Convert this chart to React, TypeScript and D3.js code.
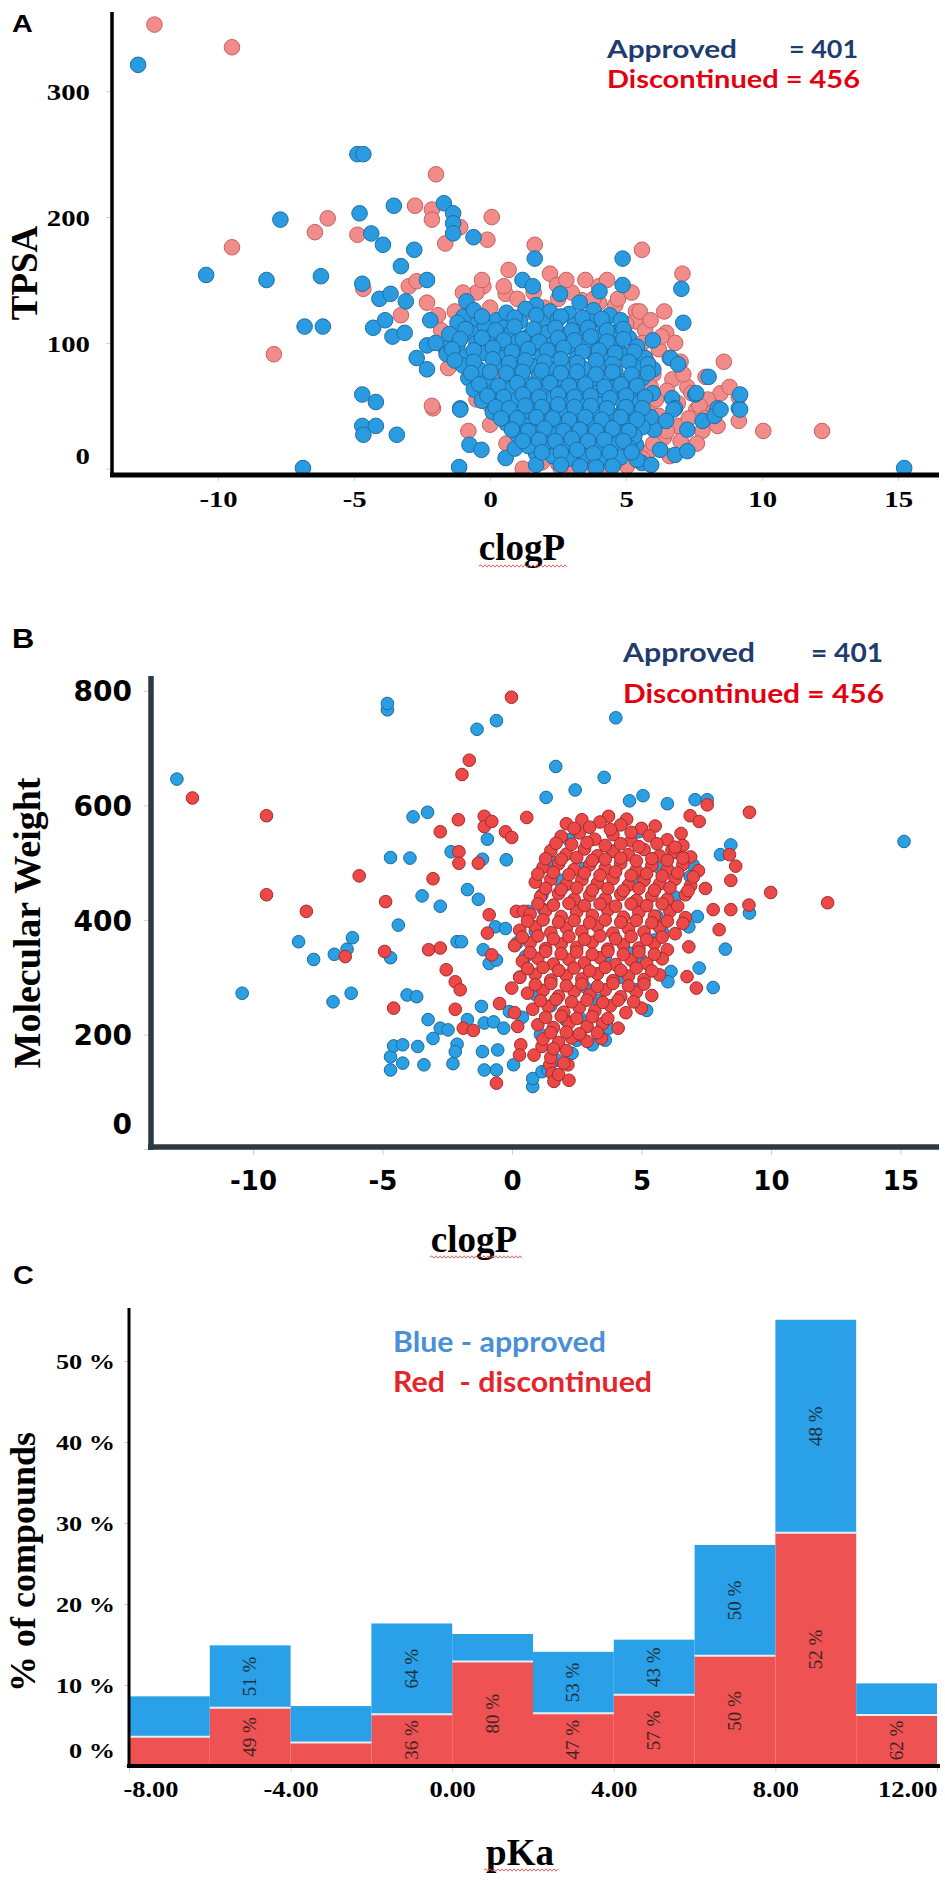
import { useEffect, useRef } from "react";
import * as d3 from "d3";

type Pt = [number, number];

// panel A: clogP vs TPSA
const approvedTpsa: Pt[] = [
  [-12.94, 321], [-10.44, 154], [-8.22, 150], [-7.71, 198], [-6.22, 153], [-6.82, 113], [-6.15, 113],
  [-4.88, 250], [-4.66, 250], [-4.8, 203], [-4.37, 187], [-3.94, 178], [-3.54, 209], [-2.79, 174],
  [-3.28, 161], [-2.32, 150], [-4.7, 147], [-4.07, 135], [-3.66, 139], [-3.1, 133], [-1.7, 211],
  [-1.36, 203], [-1.36, 195], [-1.36, 187], [-0.61, 184], [-4.3, 112], [-3.86, 118], [-3.59, 105],
  [-3.14, 108], [-2.7, 88], [-2.32, 98], [-2.32, 79], [-2.2, 118], [-1.65, 96], [-0.87, 133],
  [-0.98, 121], [-0.43, 117], [0.24, 118], [0.8, 120], [1.19, 150], [1.57, 145], [1.64, 167],
  [1.69, 130], [2.57, 139], [3.29, 132], [4.02, 141], [4.87, 167], [4.87, 146], [7.03, 143],
  [7.1, 116], [5.98, 102], [6.63, 88], [6.91, 83], [8.03, 73], [7.54, 59], [8.36, 48], [9.14, 48],
  [6.69, 56], [6.8, 48], [5.98, 60], [-4.7, 59], [-4.2, 53], [-1.1, 48],
  [-6.88, 0.5], [-1.14, 1.3], [-4.7, 34], [-4.2, 34], [-4.66, 27], [-3.43, 27], [-1.1, 47],
  [-0.76, 19], [-0.32, 15], [0.57, 8.5], [0.91, 16], [1.69, 12], [1.69, 3], [15.22, 0.5],
  [4.47, 4.5], [5.58, 4.5], [5.92, 3], [6.25, 15], [6.8, 11], [7.25, 14], [7.25, 31], [7.81, 38],
  [8.25, 42], [8.47, 47], [9.19, 47], [9.19, 59], [7.58, 60], [6.74, 47], [6.47, 38], [6.03, 31],
  [5.36, 19], [4.8, 24], [4.25, 20], [3.47, 18], [3.02, 26], [3.8, 39], [5.14, 36], [4.92, 47],
  [4.25, 55], [3.13, 51], [2.13, 44], [1.13, 36], [0.46, 51], [-0.21, 61], [1.35, 65], [2.69, 57],
  [2.57, 31], [2.13, 19], [3.36, 7],
  [-0.6, 126], [0.6, 124], [1.3, 127], [2.2, 125], [2.9, 123], [3.8, 126], [4.4, 122],
  [-1.2, 116], [-0.2, 113], [0.5, 112], [1.1, 117], [1.9, 116], [2.5, 119], [3.1, 114], [3.7, 117], [4.2, 113], [4.8, 118],
  [-1.5, 107], [-0.7, 108], [0.1, 106], [0.8, 109], [1.4, 105], [2.1, 108], [2.7, 106], [3.3, 109], [3.9, 104], [4.5, 108], [5.1, 104],
  [-2.0, 100], [-1.2, 98], [-0.5, 100], [0.3, 97], [1.0, 101], [1.6, 96], [2.3, 99], [2.9, 97], [3.5, 101], [4.1, 96], [4.7, 99], [5.4, 97],
  [-1.6, 91], [-0.9, 89], [-0.2, 92], [0.5, 88], [1.2, 91], [1.9, 89], [2.5, 92], [3.2, 88], [3.8, 91], [4.4, 87], [5.0, 90], [5.7, 88],
  [-1.0, 82], [-0.4, 79], [0.2, 83], [0.9, 80], [1.5, 82], [2.2, 79], [2.8, 83], [3.4, 80], [4.0, 82], [4.6, 78], [5.3, 81], [6.0, 79],
  [-0.8, 72], [-0.1, 70], [0.6, 73], [1.2, 71], [1.8, 74], [2.4, 70], [3.1, 72], [3.7, 69], [4.3, 73], [5.0, 70], [5.6, 72],
  [-0.6, 63], [0.1, 61], [0.8, 64], [1.4, 62], [2.0, 65], [2.7, 61], [3.3, 63], [3.9, 60], [4.5, 64], [5.2, 62],
  [-0.3, 54], [0.4, 52], [1.0, 55], [1.6, 53], [2.3, 56], [2.9, 52], [3.5, 54], [4.1, 51], [4.8, 55], [5.5, 53],
  [0.1, 45], [0.8, 43], [1.4, 46], [2.0, 44], [2.6, 47], [3.3, 43], [3.9, 45], [4.5, 42], [5.2, 44], [5.9, 41],
  [0.6, 36], [1.3, 34], [1.9, 37], [2.5, 35], [3.1, 33], [3.7, 36], [4.3, 34], [5.0, 37], [5.6, 33],
  [1.0, 27], [1.6, 25], [2.2, 28], [2.9, 26], [3.5, 28], [4.1, 25], [4.7, 29], [5.3, 26],
  [1.4, 18], [2.0, 20], [2.7, 17], [3.2, 21], [3.9, 16], [4.5, 19], [5.1, 17],
  [2.3, 10], [2.9, 8], [3.5, 11], [4.0, 6], [4.8, 9], [5.4, 7],
  [-0.3, 121], [0.9, 120], [1.7, 122], [2.6, 121], [3.4, 120], [4.1, 119],
  [-0.9, 111], [0.2, 110], [0.9, 113], [1.6, 111], [2.4, 112], [3.0, 110], [3.6, 112], [4.3, 110], [4.9, 111],
  [-1.1, 103], [-0.3, 104], [0.5, 102], [1.2, 103], [1.8, 101], [2.5, 104], [3.1, 102], [3.7, 105], [4.3, 101], [4.9, 103],
  [-1.4, 95], [-0.6, 94], [0.1, 96], [0.8, 93], [1.4, 95], [2.1, 94], [2.7, 96], [3.4, 93], [4.0, 94], [4.6, 92], [5.3, 93],
  [-1.3, 86], [-0.6, 85], [0.1, 87], [0.7, 84], [1.3, 86], [2.0, 85], [2.6, 87], [3.2, 84], [3.9, 86], [4.5, 83], [5.1, 85], [5.8, 83],
  [-0.7, 76], [0.0, 77], [0.6, 76], [1.2, 77], [1.9, 78], [2.6, 76], [3.2, 77], [3.9, 75], [4.5, 77], [5.2, 75], [5.8, 76],
  [-0.4, 67], [0.3, 66], [1.0, 68], [1.6, 66], [2.2, 68], [2.9, 66], [3.5, 67], [4.2, 65], [4.8, 67], [5.4, 66],
  [-0.1, 58], [0.5, 57], [1.2, 59], [1.8, 57], [2.5, 59], [3.1, 57], [3.7, 58], [4.4, 56], [5.0, 58], [5.7, 57],
  [0.2, 49], [0.7, 48], [1.3, 50], [1.9, 49], [2.5, 51], [3.1, 49], [3.7, 50], [4.3, 48], [5.0, 49], [5.6, 48],
  [0.4, 40], [1.0, 40], [1.7, 41], [2.3, 40], [2.9, 39], [3.5, 41], [4.1, 39], [4.8, 41], [5.4, 39],
  [0.8, 31], [1.4, 30], [2.0, 32], [2.7, 30], [3.3, 31], [3.9, 30], [4.5, 32], [5.1, 30],
  [1.2, 22], [1.8, 23], [2.4, 22], [3.0, 24], [3.6, 22], [4.2, 23], [4.9, 22],
  [1.9, 13], [2.6, 13], [3.2, 15], [3.8, 12], [4.4, 13], [5.2, 13],
  [2.6, 3], [3.3, 2], [3.9, 1], [4.5, 2],
];

const discontinuedTpsa: Pt[] = [
  [-12.34, 353], [-9.49, 335], [-9.49, 176], [-7.95, 91], [-6.44, 188], [-5.97, 199], [-4.88, 186],
  [-2.76, 209], [-1.99, 234], [-2.14, 206], [-2.14, 198], [-1.65, 179], [-1.1, 192], [0.06, 200],
  [-0.1, 182], [1.64, 178], [5.58, 174], [7.07, 155], [0.68, 158], [-0.25, 145], [2.2, 155],
  [0.57, 139], [-2.99, 145], [-2.7, 149], [-4.66, 143], [-2.32, 132], [-3.28, 122], [-1.92, 122],
  [5.36, 125], [5.36, 117], [6.47, 108], [8.59, 85], [9.14, 57], [8.47, 60], [-1.54, 80], [-2.1, 48],
  [3.36, 134], [2.46, 146], [4.0, 132], [5.25, 92], [5.8, 84], [6.7, 71], [7.25, 65], [7.92, 73],
  [10.04, 30], [12.2, 30], [9.14, 38], [8.36, 34], [-2.14, 50], [5.14, 12], [7.14, 18], [6.36, 39],
  [2.02, 23], [0.91, 31], [0.02, 50], [5.03, 2], [3.36, 10], [6.91, 34], [7.58, 47],
  [5.7, 110], [6.2, 95], [6.0, 75], [6.5, 62], [6.9, 52], [7.3, 40], [6.4, 25], [5.9, 15], [7.8, 30],
  [8.0, 55], [6.8, 100], [5.5, 125], [4.6, 130], [3.0, 140], [1.0, 135], [2.0, 128], [0.0, 128],
  [-0.5, 140], [4.0, 145], [6.6, 10], [7.6, 20], [4.6, 5], [2.5, 4], [1.2, 0], [-0.8, 30], [5.9, 65],
  [6.2, 42], [7.0, 85], [4.7, 135], [-0.7, 110], [-1.3, 125], [-1.8, 110], [0.3, 75], [2.6, 0], [3.8, 2],
  [6.3, 105], [6.6, 88], [7.1, 75], [7.4, 60], [7.7, 50], [8.2, 45], [6.1, 55], [5.8, 45], [6.5, 30],
  [7.0, 22], [7.9, 40], [8.8, 65], [5.9, 118], [6.4, 125], [5.2, 140], [3.5, 150], [2.8, 150], [1.6, 140],
  [0.5, 145], [-0.3, 150], [-1.0, 140], [4.3, 150], [3.8, 135], [2.5, 135], [1.4, 125], [5.0, 115],
  [5.6, 100], [6.0, 20], [5.6, 8], [4.2, 0], [3.1, 0], [1.9, 5], [0.6, 20], [0.0, 35], [-0.5, 55], [-0.2, 95],
];

// panel B: clogP vs molecular weight
const approvedMw: Pt[] = [
  [-12.94, 646], [-10.42, 272], [-8.24, 362], [-7.66, 331], [-6.86, 340], [-6.37, 349], [-6.16, 369],
  [-6.91, 257], [-6.21, 272], [-4.69, 509], [-3.94, 508], [-3.82, 580], [-3.26, 588], [-4.39, 391],
  [-3.47, 442], [-2.77, 424], [-4.69, 334], [-4.05, 269], [-3.68, 266], [-3.24, 226], [-3.05, 193],
  [-2.77, 211], [-2.47, 208], [-2.12, 183], [-2.12, 362], [-1.95, 362], [-2.35, 519], [-1.72, 453],
  [-1.3, 436], [-1.14, 506], [-0.95, 541], [-0.22, 505], [-1.11, 348], [-0.88, 324], [-0.6, 330],
  [-0.64, 388], [-0.25, 385], [-1.72, 226], [-1.18, 249], [-1.07, 220], [-0.71, 222], [-0.32, 211],
  [-1.14, 170], [-0.55, 173], [0.06, 147], [-1.07, 138], [-0.6, 138], [-4.69, 161], [-4.57, 180],
  [-4.22, 182], [-4.22, 150], [-4.69, 138], [-3.64, 179], [-3.4, 147], [-2.28, 149], [-2.19, 170],
  [0.8, 109], [0.8, 123], [1.16, 135], [1.69, 668], [3.56, 649], [2.44, 627], [1.32, 614], [4.54, 608],
  [5.06, 617], [6.0, 603], [7.07, 610], [7.54, 610], [4.9, 554], [5.64, 493], [7.0, 496], [6.88, 476],
  [8.45, 531], [8.05, 514], [15.14, 537], [9.17, 412], [7.16, 406], [6.83, 388], [8.24, 349],
  [7.23, 316], [7.77, 282], [6.14, 310], [6.02, 292], [5.2, 242], [3.73, 211], [3.1, 182], [2.32, 167],
  [1.74, 155], [1.39, 138], [0.52, 336], [0.62, 415], [1.16, 444], [1.46, 505], [1.22, 418],
  [2.79, 490], [5.6, 406], [3.61, 336], [5.48, 365], [4.54, 342], [2.79, 284], [4.78, 278], [2.08, 225],
  [-4.81, 767], [-4.81, 778], [-0.6, 748], [-1.35, 733], [4.01, 753],
  [0.3, 300], [0.9, 270], [1.5, 250], [0.4, 230], [1.1, 200], [2.6, 230], [3.3, 260], [4.2, 300],
  [5.0, 330], [5.8, 380], [6.3, 440], [4.7, 470], [3.9, 520], [2.2, 540], [1.8, 470], [0.9, 380],
  [0.2, 360], [-0.1, 240], [2.5, 190], [3.6, 190],
];

const discontinuedMw: Pt[] = [
  [-12.34, 613], [-9.48, 582], [-9.48, 444], [-7.94, 415], [-5.9, 477], [-6.44, 336], [-4.88, 432],
  [-4.92, 345], [-4.57, 246], [-3.05, 472], [-3.22, 348], [-2.77, 554], [-2.77, 351], [-2.54, 313],
  [-2.19, 292], [-2.0, 278], [-2.19, 244], [-2.07, 575], [-2.05, 519], [-2.05, 499], [-1.88, 211],
  [-1.49, 207], [-1.3, 499], [-1.07, 581], [-1.07, 563], [-0.78, 572], [-0.88, 409], [-0.95, 377],
  [-0.78, 339], [-0.48, 254], [-0.25, 554], [-0.01, 544], [0.57, 579], [-0.6, 115], [0.1, 238],
  [0.22, 214], [0.17, 415], [0.45, 415], [-0.01, 281], [0.34, 182], [0.29, 164], [0.85, 164],
  [1.16, 179], [1.46, 147], [1.55, 132], [1.62, 118], [2.16, 147], [2.63, 199], [3.45, 193],
  [6.76, 301], [7.12, 281], [6.83, 353], [6.88, 582], [7.23, 572], [7.54, 601], [9.17, 588], [8.4, 514],
  [8.64, 494], [8.45, 469], [7.47, 455], [7.77, 418], [8.45, 418], [9.15, 426], [8.0, 383], [9.99, 448],
  [12.19, 430], [6.18, 522], [6.53, 551], [5.53, 564], [3.73, 581], [4.43, 576],
  [-0.02, 789], [-1.65, 679], [-1.93, 654],
  [2.1, 568], [2.7, 575], [3.4, 571], [4.2, 566], [5.0, 560],
  [1.9, 546], [2.6, 552], [3.2, 541], [3.9, 549], [4.6, 538], [5.3, 547], [6.0, 540], [6.6, 530],
  [1.5, 521], [2.1, 515], [2.8, 524], [3.3, 512], [3.9, 520], [4.5, 514], [5.1, 523], [5.7, 512], [6.3, 518], [6.9, 510],
  [1.2, 492], [1.8, 498], [2.4, 488], [3.0, 496], [3.6, 490], [4.2, 499], [4.8, 487], [5.4, 495], [6.0, 489], [6.6, 497], [7.2, 486],
  [0.9, 466], [1.5, 471], [2.1, 462], [2.7, 470], [3.3, 464], [3.9, 472], [4.5, 461], [5.1, 469], [5.7, 463], [6.3, 471], [6.9, 460],
  [1.1, 440], [1.8, 446], [2.4, 436], [3.0, 443], [3.6, 437], [4.2, 445], [4.8, 434], [5.4, 442], [6.0, 436], [6.7, 444],
  [0.7, 410], [1.3, 416], [1.9, 406], [2.5, 414], [3.1, 408], [3.7, 417], [4.3, 405], [4.9, 413], [5.5, 407], [6.1, 415], [6.7, 404],
  [0.3, 382], [0.9, 388], [1.5, 378], [2.1, 386], [2.7, 380], [3.3, 389], [3.9, 377], [4.5, 385], [5.1, 379], [5.7, 387], [6.3, 376],
  [0.1, 355], [0.7, 360], [1.3, 350], [1.9, 358], [2.5, 352], [3.1, 361], [3.7, 349], [4.3, 357], [4.9, 351], [5.5, 359], [6.0, 348],
  [0.4, 328], [1.0, 333], [1.6, 323], [2.2, 331], [2.8, 325], [3.4, 334], [4.0, 322], [4.6, 330], [5.2, 324], [5.8, 332],
  [0.3, 300], [0.9, 305], [1.5, 295], [2.1, 303], [2.7, 297], [3.3, 306], [3.9, 294], [4.5, 302], [5.1, 296], [5.7, 304],
  [0.6, 272], [1.2, 277], [1.8, 267], [2.4, 275], [3.0, 269], [3.6, 278], [4.2, 266], [4.8, 274], [5.4, 268],
  [0.8, 244], [1.4, 249], [2.0, 239], [2.6, 247], [3.2, 241], [3.8, 250], [4.4, 238], [5.0, 246],
  [1.0, 217], [1.6, 212], [2.2, 220], [2.9, 214], [3.5, 219], [4.1, 211],
  [1.2, 192], [1.8, 186], [2.3, 194], [2.9, 188],
  [1.5, 160], [2.0, 150], [1.8, 130], [2.2, 120],
  [2.4, 560], [3.0, 562], [3.8, 558], [4.6, 553],
  [1.7, 534], [2.3, 532], [2.9, 535], [3.6, 530], [4.2, 533], [4.9, 528], [5.6, 533], [6.3, 527],
  [1.3, 507], [1.9, 506], [2.5, 509], [3.1, 504], [3.6, 506], [4.2, 508], [4.8, 503], [5.4, 507], [6.0, 504], [6.6, 508],
  [1.0, 480], [1.6, 483], [2.2, 479], [2.8, 482], [3.4, 478], [4.0, 484], [4.6, 478], [5.2, 481], [5.8, 477], [6.4, 482], [7.0, 475],
  [1.3, 455], [1.9, 453], [2.5, 456], [3.1, 452], [3.7, 455], [4.3, 451], [4.9, 455], [5.5, 452], [6.1, 456], [6.8, 451],
  [1.0, 428], [1.6, 426], [2.2, 429], [2.8, 425], [3.4, 428], [4.0, 424], [4.6, 428], [5.2, 425], [5.8, 428], [6.4, 424],
  [0.6, 398], [1.2, 400], [1.8, 396], [2.4, 399], [3.0, 395], [3.6, 400], [4.2, 396], [4.8, 399], [5.4, 395], [6.0, 398], [6.6, 394],
  [0.4, 370], [1.0, 372], [1.6, 367], [2.2, 371], [2.8, 366], [3.4, 372], [4.0, 367], [4.6, 371], [5.2, 366], [5.8, 370],
  [0.7, 343], [1.3, 345], [1.9, 341], [2.5, 344], [3.1, 340], [3.7, 345], [4.3, 340], [4.9, 344], [5.5, 340],
  [0.6, 315], [1.2, 317], [1.8, 312], [2.4, 316], [3.0, 311], [3.6, 317], [4.2, 312], [4.8, 316], [5.4, 311],
  [0.9, 287], [1.5, 289], [2.1, 285], [2.7, 288], [3.3, 284], [3.9, 289], [4.5, 285], [5.1, 288],
  [1.1, 259], [1.7, 261], [2.3, 257], [2.9, 260], [3.5, 256], [4.1, 260], [4.7, 257],
  [1.3, 230], [1.9, 232], [2.5, 228], [3.1, 231], [3.7, 228],
  [1.5, 203], [2.1, 204], [2.6, 201], [3.3, 203],
  [1.6, 175], [2.1, 172],
];

// panel C: pKa histogram, % of compounds per 2-unit bin
const pkaBins = [-8, -6, -4, -2, 0, 2, 4, 6, 8, 10];
const pkaDiscontinued = [3.6, 7.2, 2.9, 6.4, 12.9, 6.5, 8.8, 13.6, 28.8, 6.3];
const pkaApproved = [5.0, 7.7, 4.5, 11.2, 3.4, 7.6, 6.8, 13.7, 26.3, 3.9];
const pkaDiscontinuedLabels = ["", "49 %", "", "36 %", "80 %", "47 %", "57 %", "50 %", "52 %", "62 %"];
const pkaApprovedLabels = ["", "51 %", "", "64 %", "", "53 %", "43 %", "50 %", "48 %", ""];

const tpsaTicks = [0, 100, 200, 300];
const mwTicks = [0, 200, 400, 600, 800];
const clogPTicks = [-10, -5, 0, 5, 10, 15];
const pctTicks = [0, 10, 20, 30, 40, 50];
const pkaTicks = [-8, -4, 0, 4, 8, 12];

const SERIF = "'Liberation Serif', 'Times New Roman', serif";
const SANS = "'Liberation Sans', Arial, sans-serif";
const HEAVY = "'DejaVu Sans', sans-serif";
const LEGEND = "Lato, 'Open Sans', sans-serif";

type Sel = d3.Selection<SVGGElement, unknown, null, undefined>;

function squiggle(g: Sel, x0: number, x1: number, y: number) {
  let d = `M${x0},${y}`;
  let up = true;
  for (let x = x0 + 2; x <= x1; x += 2) {
    d += `L${x},${y + (up ? -1.2 : 1.2)}`;
    up = !up;
  }
  g.append("path").attr("d", d).attr("fill", "none").attr("stroke", "#d9534f").attr("stroke-width", 0.9);
}

function word(
  g: Sel,
  x: number,
  y: number,
  text: string,
  o: { size: number; family: string; weight?: string | number; fill?: string; anchor?: string; rotate?: number; sx?: number; len?: number }
) {
  const t = g
    .append("text")
    .attr("transform", `translate(${x},${y})${o.rotate ? ` rotate(${o.rotate})` : ""}${o.sx ? ` scale(${o.sx},1)` : ""}`)
    .attr("text-anchor", o.anchor ?? "start")
    .attr("fill", o.fill ?? "#000")
    .style("font-family", o.family)
    .style("font-size", `${o.size}px`)
    .style("font-weight", o.weight ?? "normal")
    .style("white-space", "pre")
    .text(text);
  if (o.len) t.attr("textLength", o.len).attr("lengthAdjust", "spacingAndGlyphs");
  return t;
}

function styleAxis(
  ax: Sel,
  o: { family: string; size: number; weight: string | number; sx: number; dx: number; dy: number; zeroShift: number; anchor: string; baseline?: string }
) {
  ax.attr("font-family", null).attr("font-size", null);
  ax.select(".domain").remove();
  ax.selectAll("line").attr("stroke", "#cfcfcf");
  ax.selectAll<SVGTextElement, number>("text")
    .attr("x", 0)
    .attr("y", 0)
    .attr("dy", o.baseline ?? null)
    .attr("fill", "#000")
    .attr("text-anchor", o.anchor)
    .style("font-family", o.family)
    .style("font-size", `${o.size}px`)
    .style("font-weight", o.weight)
    .attr("transform", (d) => `translate(${o.dx},${o.dy + (d === 0 ? o.zeroShift : 0)}) scale(${o.sx},1)`);
}

export default function App() {
  const ref = useRef<SVGSVGElement>(null);

  useEffect(() => {
    document.body.style.margin = "0";
    if (!ref.current) return;
    const svg = d3.select(ref.current);
    svg.selectAll("*").remove();
    const root = svg.append("g") as unknown as Sel;

    // ---------- A ----------
    const xA = d3.scaleLinear().domain([-13.9, 16.5]).range([112, 939]);
    const yA = d3.scaleLinear().domain([-5, 363]).range([475, 12]);
    const gA = root.append("g");

    gA.append("g")
      .selectAll("circle")
      .data(discontinuedTpsa)
      .join("circle")
      .attr("cx", (d) => xA(d[0]))
      .attr("cy", (d) => yA(d[1]))
      .attr("r", 7.8)
      .attr("fill", "#f28c8a")
      .attr("stroke", "#c4625f")
      .attr("stroke-width", 1);
    gA.append("g")
      .selectAll("circle")
      .data(approvedTpsa)
      .join("circle")
      .attr("cx", (d) => xA(d[0]))
      .attr("cy", (d) => yA(d[1]))
      .attr("r", 7.8)
      .attr("fill", "#2a9be0")
      .attr("stroke", "#1f6ea3")
      .attr("stroke-width", 1);

    const ayA = gA.append("g").attr("transform", "translate(112,0)").call(d3.axisLeft(yA).tickValues(tpsaTicks).tickSize(6).tickFormat((d) => String(d)));
    styleAxis(ayA, { family: SERIF, size: 24, weight: "bold", sx: 1.2, dx: -22, dy: 0, zeroShift: -14, anchor: "end", baseline: "0.35em" });
    const axA = gA.append("g").attr("transform", "translate(0,475)").call(d3.axisBottom(xA).tickValues(clogPTicks).tickSize(6).tickFormat((d) => String(d)));
    styleAxis(axA, { family: SERIF, size: 23, weight: "bold", sx: 1.25, dx: 0, dy: 32, zeroShift: 0, anchor: "middle" });

    gA.append("line").attr("x1", 112).attr("x2", 112).attr("y1", 12).attr("y2", 476).attr("stroke", "#000").attr("stroke-width", 3.5);
    gA.append("line").attr("x1", 110).attr("x2", 939).attr("y1", 475).attr("y2", 475).attr("stroke", "#000").attr("stroke-width", 5);

    word(gA, 12, 32, "A", { size: 24, family: SANS, weight: "bold", sx: 1.2 });
    word(gA, 37, 273, "TPSA", { size: 37, family: SERIF, weight: "bold", anchor: "middle", rotate: -90 });
    word(gA, 522, 560, "clogP", { size: 37, family: SERIF, weight: "bold", anchor: "middle" });
    squiggle(gA, 479, 567, 566);
    word(gA, 607, 58, "Approved", { size: 25, family: LEGEND, weight: 700, fill: "#1f3c6e", len: 130 });
    word(gA, 789, 58, "= 401", { size: 25, family: LEGEND, weight: 700, fill: "#1f3c6e", len: 69 });
    word(gA, 607, 88, "Discontinued = 456", { size: 25, family: LEGEND, weight: 700, fill: "#e3000f", len: 253 });

    // ---------- B ----------
    const xB = d3.scaleLinear().domain([-13.94, 16.49]).range([151, 939]);
    const yB = d3.scaleLinear().domain([0, 826]).range([1149, 676]);
    const gB = root.append("g");

    gB.append("g")
      .selectAll("circle")
      .data(approvedMw)
      .join("circle")
      .attr("cx", (d) => xB(d[0]))
      .attr("cy", (d) => yB(d[1]))
      .attr("r", 6.3)
      .attr("fill", "#2b9fe3")
      .attr("stroke", "#1c6b9c")
      .attr("stroke-width", 1);
    gB.append("g")
      .selectAll("circle")
      .data(discontinuedMw)
      .join("circle")
      .attr("cx", (d) => xB(d[0]))
      .attr("cy", (d) => yB(d[1]))
      .attr("r", 6.3)
      .attr("fill", "#ec4848")
      .attr("stroke", "#a32b2b")
      .attr("stroke-width", 1);

    const ayB = gB.append("g").attr("transform", "translate(151,0)").call(d3.axisLeft(yB).tickValues(mwTicks).tickSize(7).tickFormat((d) => String(d)));
    styleAxis(ayB, { family: HEAVY, size: 28, weight: "bold", sx: 1, dx: -19, dy: 0, zeroShift: -26, anchor: "end", baseline: "0.36em" });
    const axB = gB.append("g").attr("transform", "translate(0,1149)").call(d3.axisBottom(xB).tickValues(clogPTicks).tickSize(6).tickFormat((d) => String(d)));
    styleAxis(axB, { family: HEAVY, size: 26, weight: "bold", sx: 1, dx: 0, dy: 41, zeroShift: 0, anchor: "middle" });

    gB.append("line").attr("x1", 151).attr("x2", 151).attr("y1", 676).attr("y2", 1150).attr("stroke", "#2d3a42").attr("stroke-width", 5.5);
    gB.append("line").attr("x1", 148).attr("x2", 939).attr("y1", 1147).attr("y2", 1147).attr("stroke", "#2d3a42").attr("stroke-width", 5.5);

    word(gB, 12, 648, "B", { size: 28, family: SANS, weight: "bold", sx: 1.1 });
    word(gB, 40, 923, "Molecular Weight", { size: 38, family: SERIF, weight: "bold", anchor: "middle", rotate: -90 });
    word(gB, 474, 1252, "clogP", { size: 37, family: SERIF, weight: "bold", anchor: "middle" });
    squiggle(gB, 430, 522, 1257);
    word(gB, 623, 662, "Approved", { size: 26, family: LEGEND, weight: 700, fill: "#1f3c6e", len: 132 });
    word(gB, 811, 662, "= 401", { size: 26, family: LEGEND, weight: 700, fill: "#1f3c6e", len: 72 });
    word(gB, 623, 703, "Discontinued = 456", { size: 26, family: LEGEND, weight: 700, fill: "#e3000f", len: 261 });

    // ---------- C ----------
    const xC = d3.scaleLinear().domain([-8, 12]).range([129, 937]);
    const yC = d3.scaleLinear().domain([0, 56.8]).range([1766, 1306]);
    const gC = root.append("g");

    const rows = pkaBins.map((b, i) => ({ bin: b, discontinued: pkaDiscontinued[i], approved: pkaApproved[i], i }));
    const stacked = d3.stack<(typeof rows)[number]>().keys(["discontinued", "approved"])(rows);
    const fills: Record<string, string> = { discontinued: "#ef5252", approved: "#29a0e8" };
    const labelsBy: Record<string, string[]> = { discontinued: pkaDiscontinuedLabels, approved: pkaApprovedLabels };

    stacked.forEach((layer) => {
      const lg = gC.append("g");
      lg.selectAll("rect")
        .data(layer)
        .join("rect")
        .attr("x", (d) => xC(d.data.bin))
        .attr("width", (d) => xC(d.data.bin + 2) - xC(d.data.bin))
        .attr("y", (d) => yC(d[1]))
        .attr("height", (d) => yC(d[0]) - yC(d[1]))
        .attr("fill", fills[layer.key]);
    });
    // pale seam between the two segments
    gC.append("g")
      .selectAll("line")
      .data(stacked[0])
      .join("line")
      .attr("x1", (d) => xC(d.data.bin))
      .attr("x2", (d) => xC(d.data.bin + 2))
      .attr("y1", (d) => yC(d[1]))
      .attr("y2", (d) => yC(d[1]))
      .attr("stroke", "#e9eef2")
      .attr("stroke-width", 2);

    stacked.forEach((layer) => {
      layer.forEach((d) => {
        const txt = labelsBy[layer.key][d.data.i];
        if (!txt) return;
        const cx = (xC(d.data.bin) + xC(d.data.bin + 2)) / 2;
        const cy = (yC(d[0]) + yC(d[1])) / 2;
        word(gC, cx + 6, cy, txt, { size: 19, family: SERIF, fill: "#1b1b1b", anchor: "middle", rotate: -90 }).attr("opacity", 0.85);
      });
    });

    const ayC = gC.append("g").attr("transform", "translate(129,0)").call(d3.axisLeft(yC).tickValues(pctTicks).tickSize(5).tickFormat((d) => `${d} %`));
    styleAxis(ayC, { family: SERIF, size: 21, weight: "bold", sx: 1.25, dx: -14, dy: 0, zeroShift: -16, anchor: "end", baseline: "0.35em" });
    const axC = gC.append("g").attr("transform", "translate(0,1766)").call(d3.axisBottom(xC).tickValues(pkaTicks).tickSize(6).tickFormat((d) => (d as number).toFixed(2)));
    styleAxis(axC, { family: SERIF, size: 23, weight: "bold", sx: 1.15, dx: 0, dy: 31, zeroShift: 0, anchor: "middle" });
    // end labels are pulled inside the frame, as in the original
    axC.selectAll<SVGTextElement, number>("text")
      .attr("text-anchor", (d) => (d === -8 ? "start" : d === 12 ? "end" : "middle"))
      .attr("transform", (d) => `translate(${d === -8 ? -6 : 0},31) scale(1.15,1)`);

    gC.append("line").attr("x1", 129).attr("x2", 129).attr("y1", 1308).attr("y2", 1768).attr("stroke", "#000").attr("stroke-width", 3);
    gC.append("line").attr("x1", 127).attr("x2", 940).attr("y1", 1766).attr("y2", 1766).attr("stroke", "#000").attr("stroke-width", 4);

    word(gC, 13, 1284, "C", { size: 25, family: SANS, weight: "bold", sx: 1.15 });
    word(gC, 35, 1562, "% of compounds", { size: 36, family: SERIF, weight: "bold", anchor: "middle", rotate: -90 });
    word(gC, 520, 1865, "pKa", { size: 37, family: SERIF, weight: "bold", anchor: "middle" });
    squiggle(gC, 484, 558, 1870);
    word(gC, 393, 1352, "Blue - approved", { size: 28, family: LEGEND, weight: 700, fill: "#4a8fd6", len: 213 });
    word(gC, 393, 1392, "Red  - discontinued", { size: 28, family: LEGEND, weight: 700, fill: "#e4262c", len: 259 });
  }, []);

  return (
    <svg
      ref={ref}
      width={945}
      height={1882}
      viewBox="0 0 945 1882"
      style={{ display: "block", position: "absolute", left: 0, top: 0, background: "#fff" }}
    />
  );
}
